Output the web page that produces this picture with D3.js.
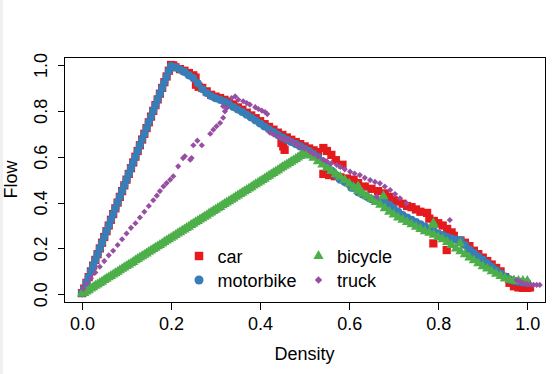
<!DOCTYPE html>
<html>
<head>
<meta charset="utf-8">
<script src="https://cdn.jsdelivr.net/npm/d3@7"></script>
<style>
  body { margin: 0; background: #fff; }
  text { font-family: "Liberation Sans", Arial, sans-serif; font-size: 18px; fill: #000; }
</style>
</head>
<body>
<svg id="chart" width="560" height="374"></svg>
<script>
// series names, colours follow the legend order
var vehicles = ['car', 'motorbike', 'bicycle', 'truck'];
var vehicleColors = ['#E41A1C', '#377EB8', '#4DAF4A', '#984EA3'];
var xTicks = [0, 0.2, 0.4, 0.6, 0.8, 1.0];
var yTicks = [0, 0.2, 0.4, 0.6, 0.8, 1.0];

// [density, flow]
var carPoints = [
  [0,0.005],[0.005,0.025],[0.01,0.05],[0.015,0.075],[0.02,0.1],[0.025,0.125],[0.03,0.15],[0.035,0.175],
  [0.04,0.2],[0.045,0.225],[0.05,0.25],[0.055,0.275],[0.06,0.3],[0.065,0.325],[0.07,0.35],[0.075,0.375],
  [0.08,0.4],[0.085,0.425],[0.09,0.45],[0.095,0.475],[0.1,0.5],[0.105,0.525],[0.11,0.55],[0.115,0.575],
  [0.12,0.6],[0.125,0.625],[0.13,0.65],[0.135,0.675],[0.14,0.7],[0.145,0.725],[0.15,0.75],[0.155,0.775],
  [0.16,0.8],[0.165,0.825],[0.17,0.85],[0.175,0.875],[0.18,0.9],[0.185,0.925],[0.19,0.95],[0.195,0.975],
  [0.2,1.0],[0.205,0.998],[0.21,0.99],[0.22,0.982],[0.23,0.975],[0.24,0.965],[0.25,0.955],[0.255,0.945],
  [0.256,0.914],[0.262,0.905],[0.27,0.9],[0.28,0.885],[0.29,0.87],[0.3,0.862],[0.31,0.856],
  [0.32,0.848],[0.33,0.838],[0.34,0.828],[0.35,0.815],[0.36,0.805],[0.37,0.792],[0.38,0.78],[0.39,0.768],
  [0.4,0.755],[0.41,0.742],[0.42,0.73],[0.43,0.718],[0.44,0.705],[0.448,0.66],[0.452,0.645],[0.455,0.63],
  [0.45,0.695],[0.46,0.684],[0.47,0.674],[0.48,0.664],[0.49,0.655],[0.5,0.645],[0.51,0.636],[0.52,0.628],
  [0.53,0.62],[0.542,0.638],[0.55,0.625],[0.56,0.608],[0.57,0.585],[0.585,0.565],[0.542,0.525],[0.555,0.52],
  [0.568,0.515],[0.58,0.51],[0.595,0.505],[0.61,0.5],[0.62,0.485],[0.635,0.47],[0.65,0.46],[0.665,0.45],
  [0.68,0.44],[0.69,0.425],[0.7,0.41],[0.71,0.405],[0.72,0.395],[0.73,0.385],[0.74,0.38],[0.75,0.37],
  [0.76,0.36],[0.775,0.355],[0.78,0.33],[0.79,0.32],[0.8,0.31],[0.81,0.3],[0.82,0.285],[0.83,0.27],
  [0.835,0.255],[0.789,0.222],[0.819,0.193],[0.85,0.235],[0.86,0.225],[0.87,0.21],[0.88,0.19],[0.89,0.175],
  [0.9,0.16],[0.91,0.145],[0.92,0.13],[0.93,0.115],[0.94,0.1],[0.95,0.075],[0.96,0.05],[0.97,0.035],
  [0.98,0.03],[0.99,0.028],[1.0,0.028],[1.006,0.03]
];

var motorbikePoints = [
  [0,0.005],[0.005,0.025],[0.01,0.05],[0.015,0.075],[0.02,0.1],[0.025,0.125],[0.03,0.15],[0.035,0.175],
  [0.04,0.2],[0.045,0.225],[0.05,0.25],[0.055,0.275],[0.06,0.3],[0.065,0.325],[0.07,0.35],[0.075,0.375],
  [0.08,0.4],[0.085,0.425],[0.09,0.45],[0.095,0.475],[0.1,0.5],[0.105,0.525],[0.11,0.55],[0.115,0.575],
  [0.12,0.6],[0.125,0.625],[0.13,0.65],[0.135,0.675],[0.14,0.7],[0.145,0.725],[0.15,0.75],[0.155,0.775],
  [0.16,0.8],[0.165,0.825],[0.17,0.85],[0.175,0.875],[0.18,0.9],[0.185,0.925],[0.19,0.95],[0.195,0.975],
  [0.2,0.995],[0.21,0.99],[0.22,0.98],[0.23,0.97],[0.24,0.955],[0.25,0.943],[0.26,0.92],[0.27,0.895],
  [0.28,0.878],[0.29,0.865],[0.3,0.855],[0.31,0.848],[0.32,0.84],[0.33,0.828],[0.34,0.817],[0.35,0.806],
  [0.36,0.795],[0.37,0.783],[0.38,0.771],[0.39,0.758],[0.4,0.745],[0.41,0.732],[0.42,0.72],[0.43,0.708],
  [0.44,0.695],[0.45,0.684],[0.46,0.674],[0.47,0.664],[0.48,0.655],[0.49,0.645],[0.5,0.635],[0.51,0.625],
  [0.52,0.612],[0.53,0.598],[0.54,0.58],[0.55,0.56],[0.56,0.54],[0.57,0.52],[0.58,0.5],[0.59,0.49],
  [0.6,0.48],[0.605,0.465],[0.61,0.465],[0.62,0.445],[0.63,0.435],[0.64,0.425],[0.65,0.415],[0.66,0.41],
  [0.67,0.405],[0.68,0.4],[0.69,0.39],[0.7,0.375],[0.71,0.36],[0.72,0.345],[0.73,0.335],[0.74,0.325],
  [0.75,0.315],[0.76,0.305],[0.77,0.295],[0.78,0.285],[0.79,0.275],[0.8,0.265],[0.81,0.258],[0.82,0.25],
  [0.83,0.243],[0.84,0.238],[0.85,0.235],[0.86,0.215],[0.87,0.195],[0.88,0.18],[0.89,0.165],[0.9,0.15],
  [0.91,0.135],[0.92,0.12],[0.93,0.105],[0.94,0.09],[0.95,0.077],[0.96,0.065],[0.97,0.058],[0.98,0.055],
  [0.99,0.052],[1.0,0.05]
];

var bicyclePoints = [
  [0,0.003],[0.005,0.006],[0.01,0.012],[0.015,0.018],[0.02,0.025],[0.025,0.031],[0.03,0.037],[0.035,0.043],
  [0.04,0.049],[0.045,0.055],[0.05,0.062],[0.055,0.068],[0.06,0.074],[0.065,0.08],[0.07,0.086],[0.075,0.092],
  [0.08,0.098],[0.085,0.105],[0.09,0.111],[0.095,0.117],[0.1,0.123],[0.105,0.129],[0.11,0.135],[0.115,0.141],
  [0.12,0.148],[0.125,0.154],[0.13,0.16],[0.135,0.166],[0.14,0.172],[0.145,0.178],[0.15,0.185],[0.155,0.191],
  [0.16,0.197],[0.165,0.203],[0.17,0.209],[0.175,0.215],[0.18,0.221],[0.185,0.228],[0.19,0.234],[0.195,0.24],
  [0.2,0.246],[0.205,0.252],[0.21,0.258],[0.215,0.265],[0.22,0.271],[0.225,0.277],[0.23,0.283],[0.235,0.289],
  [0.24,0.295],[0.245,0.302],[0.25,0.308],[0.255,0.314],[0.26,0.32],[0.265,0.326],[0.27,0.332],[0.275,0.338],
  [0.28,0.344],[0.285,0.351],[0.29,0.357],[0.295,0.363],[0.3,0.369],[0.305,0.375],[0.31,0.381],[0.315,0.388],
  [0.32,0.394],[0.325,0.4],[0.33,0.406],[0.335,0.412],[0.34,0.418],[0.345,0.425],[0.35,0.431],[0.355,0.437],
  [0.36,0.443],[0.365,0.449],[0.37,0.455],[0.375,0.461],[0.38,0.467],[0.385,0.474],[0.39,0.48],[0.395,0.486],
  [0.4,0.492],[0.405,0.498],[0.41,0.504],[0.415,0.511],[0.42,0.517],[0.425,0.523],[0.43,0.529],[0.435,0.535],
  [0.44,0.541],[0.445,0.548],[0.45,0.554],[0.455,0.56],[0.46,0.566],[0.465,0.572],[0.47,0.578],[0.475,0.584],
  [0.48,0.59],[0.485,0.597],[0.49,0.603],[0.495,0.609],[0.5,0.615],[0.51,0.605],[0.52,0.595],[0.53,0.58],
  [0.54,0.566],[0.55,0.552],[0.56,0.538],[0.57,0.525],[0.58,0.512],[0.59,0.498],[0.6,0.482],[0.61,0.466],
  [0.62,0.452],[0.63,0.44],[0.64,0.428],[0.65,0.415],[0.66,0.402],[0.67,0.39],[0.68,0.375],[0.69,0.36],
  [0.7,0.348],[0.71,0.335],[0.72,0.325],[0.73,0.315],[0.74,0.305],[0.75,0.295],[0.76,0.285],[0.77,0.275],
  [0.78,0.268],[0.79,0.26],[0.8,0.25],[0.81,0.24],[0.82,0.228],[0.83,0.215],[0.84,0.2],[0.85,0.188],
  [0.86,0.175],[0.87,0.16],[0.88,0.148],[0.89,0.135],[0.9,0.122],[0.91,0.112],[0.92,0.1],[0.93,0.09],
  [0.94,0.08],[0.95,0.07],[0.96,0.063],[0.97,0.06],[0.98,0.058],[0.99,0.058],[1.0,0.058],
  [0.62,0.47],[0.677,0.428],[0.789,0.31],[0.789,0.302],[0.849,0.222]
];

var truckPoints = [
  [0.003,0.025],[0.01,0.045],[0.02,0.07],[0.03,0.095],[0.04,0.12],[0.05,0.145],[0.06,0.17],[0.07,0.19],
  [0.08,0.215],[0.09,0.24],[0.1,0.265],[0.11,0.29],[0.12,0.31],[0.13,0.335],[0.14,0.36],[0.15,0.385],
  [0.16,0.41],[0.168,0.43],[0.175,0.45],[0.183,0.471],[0.19,0.485],[0.198,0.5],[0.205,0.515],[0.216,0.558],
  [0.227,0.594],[0.231,0.602],[0.243,0.587],[0.246,0.594],[0.25,0.65],[0.259,0.67],[0.269,0.65],[0.288,0.7],
  [0.295,0.718],[0.302,0.733],[0.31,0.747],[0.317,0.77],[0.321,0.798],[0.325,0.812],[0.317,0.82],[0.336,0.856],
  [0.344,0.863],[0.351,0.849],[0.362,0.842],[0.37,0.834],[0.377,0.827],[0.389,0.816],[0.396,0.808],[0.404,0.801],
  [0.411,0.795],[0.416,0.786],[0.422,0.705],[0.43,0.697],[0.44,0.688],[0.45,0.68],[0.458,0.674],[0.467,0.673],
  [0.475,0.662],[0.483,0.652],[0.49,0.645],[0.5,0.635],[0.512,0.622],[0.52,0.612],[0.53,0.6],[0.542,0.586],
  [0.55,0.58],[0.56,0.572],[0.572,0.564],[0.58,0.556],[0.59,0.545],[0.602,0.535],[0.612,0.527],[0.624,0.52],
  [0.635,0.508],[0.647,0.498],[0.658,0.49],[0.669,0.484],[0.68,0.47],[0.692,0.455],[0.703,0.437],[0.714,0.419],
  [0.729,0.397],[0.662,0.426],[0.826,0.324],
  [0.976,0.062],[0.983,0.055],[0.99,0.05],[0.998,0.046],[1.006,0.043],[1.014,0.041],[1.021,0.041],[1.028,0.041]
];

var seriesPoints = [carPoints, motorbikePoints, bicyclePoints, truckPoints];

var svg = d3.select('#chart');

// thin grey strip on the left edge of the picture
svg.append('rect')
    .attr('x', 0).attr('y', 0)
    .attr('width', 3).attr('height', 374)
    .attr('fill', '#f0f0f0');

var x = d3.scaleLinear().domain([0, 1]).range([82, 527.3]);
var y = d3.scaleLinear().domain([0, 1]).range([294.3, 65]);

var box = {
    left: Math.round(x(-0.04)), right: Math.round(x(1.04)),
    top: Math.round(y(1.035)), bottom: Math.round(y(-0.035))
};

// point symbols, plot size and legend size (area)
var shapes = [
    {type: d3.symbolSquare, size: 68, legendSize: 72, rotate: 0},
    {type: d3.symbolCircle, size: 52, legendSize: 64, rotate: 0},
    {type: d3.symbolTriangle, size: 46, legendSize: 46, rotate: 0},
    {type: d3.symbolSquare, size: 19, legendSize: 28, rotate: 45}
];

var plot = svg.append('g').attr('class', 'points');
seriesPoints.forEach(function (points, i) {
    var shape = shapes[i];
    plot.append('g')
        .attr('class', 'series-' + vehicles[i])
      .selectAll('path')
        .data(points)
      .enter()
      .append('path')
        .attr('d', d3.symbol().type(shape.type).size(shape.size))
        .attr('transform', function (d) {
            return 'translate(' + x(d[0]) + ',' + y(d[1]) + ') rotate(' + shape.rotate + ')';
        })
        .attr('fill', vehicleColors[i]);
});

// box round the plot region
svg.append('rect')
    .attr('x', box.left + 0.5).attr('y', box.top + 0.5)
    .attr('width', box.right - box.left).attr('height', box.bottom - box.top)
    .attr('fill', 'none')
    .attr('stroke', '#000')
    .attr('shape-rendering', 'crispEdges');

var xAxis = svg.append('g')
    .attr('transform', 'translate(0,' + (box.bottom + 0.5) + ')')
    .call(d3.axisBottom(x).tickValues(xTicks).tickSize(7).tickPadding(8)
        .tickFormat(d3.format('.1f')));

var yAxis = svg.append('g')
    .attr('transform', 'translate(' + (box.left + 0.5) + ',0)')
    .call(d3.axisLeft(y).tickValues(yTicks).tickSize(7)
        .tickFormat(d3.format('.1f')));

[xAxis, yAxis].forEach(function (ax) {
    ax.select('.domain').remove();
    ax.selectAll('line').attr('stroke', '#000').attr('shape-rendering', 'crispEdges');
    ax.selectAll('text')
        .attr('font-family', '"Liberation Sans", Arial, sans-serif')
        .attr('font-size', 18)
        .attr('fill', '#000');
});

// R style: labels on the y axis run upwards
yAxis.selectAll('text')
    .attr('x', 0)
    .attr('y', -18)
    .attr('dy', null)
    .attr('text-anchor', 'middle')
    .attr('transform', 'rotate(-90)');

svg.append('text')
    .attr('x', (box.left + box.right) / 2)
    .attr('y', 360)
    .attr('text-anchor', 'middle')
    .text('Density');

svg.append('text')
    .attr('transform', 'translate(17,' + (box.top + box.bottom) / 2 + ') rotate(-90)')
    .attr('text-anchor', 'middle')
    .text('Flow');

// legend, two columns, no frame
var legend = svg.append('g').attr('class', 'legend');
vehicles.forEach(function (name, i) {
    var col = Math.floor(i / 2), row = i % 2;
    var cx = 199 + col * 119.5, cy = 256 + row * 24;
    var shape = shapes[i];
    legend.append('path')
        .attr('d', d3.symbol().type(shape.type).size(shape.legendSize))
        .attr('transform', 'translate(' + cx + ',' + cy + ') rotate(' + shape.rotate + ')')
        .attr('fill', vehicleColors[i]);
    legend.append('text')
        .attr('x', cx + 18.5)
        .attr('y', cy + 6.5)
        .text(name);
});
</script>
</body>
</html>
